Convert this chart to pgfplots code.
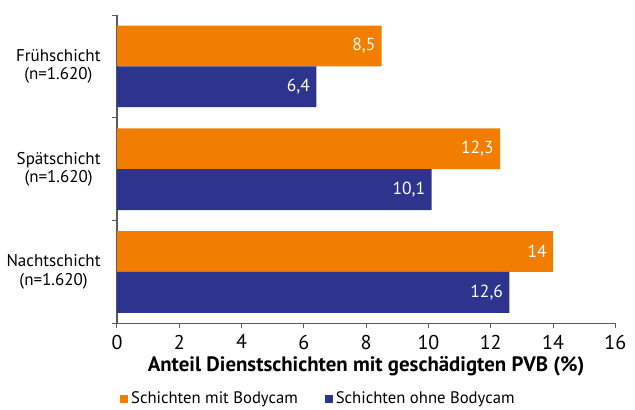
\documentclass[border=0pt]{standalone}
\usepackage{fontspec}
\setmainfont{PT Sans}
\usepackage{pgfplots}
\pgfplotsset{compat=1.18}

\definecolor{mitcam}{RGB}{242,125,0}
\definecolor{ohnecam}{RGB}{44,52,142}
\definecolor{axisgray}{RGB}{90,90,90}

\begin{document}
\begin{tikzpicture}
\fontsize{11}{12}\selectfont
\begin{axis}[
    at={(0,0)}, anchor=south west,
    scale only axis,
    width=299pt, height=185pt,
    xbar,
    bar width=24.5pt,
    xmin=0, xmax=16,
    ymin=-0.5, ymax=2.5,
    y dir=reverse,
    xtick={0,2,...,16},
    ytick={0,1,2},
    minor ytick={-0.5,0.5,1.5,2.5},
    yticklabels={{Frühschicht\\(n=1.620)},{Spätschicht\\(n=1.620)},{Nachtschicht\\(n=1.620)}},
    yticklabel style={align=center, font=\fontsize{10.2}{11}\selectfont, xshift=-3pt},
    xticklabel style={font=\fontsize{12}{12}\selectfont},
    /pgf/number format/assume math mode=true,
    major tick length=3pt,
    minor tick length=3pt,
    tick align=outside,
    tick style={axisgray, line width=0.6pt},
    major y tick style={draw=none},
    axis x line*=bottom,
    axis y line*=left,
    axis line style={axisgray, line width=0.8pt, -},
    xlabel={\textbf{Anteil Dienstschichten mit geschädigten PVB (\%)}},
    xlabel style={font=\fontsize{12.5}{13}\selectfont, yshift=3pt},
    nodes near coords,
    nodes near coords align={anchor=east},
    every node near coord/.append style={white, font=\fontsize{10.5}{11}\selectfont,
        /pgf/number format/use comma, /pgf/number format/assume math mode=true},
    legend columns=2,
    legend style={at={(-0.005,-0.245)}, anchor=west, draw=none, fill=none,
        font=\fontsize{10}{11}\selectfont,
        /tikz/every even column/.append style={column sep=14pt}},
    legend image code/.code={\fill[#1] (0pt,-2.4pt) rectangle (4.8pt,2.4pt);},
]
\addplot[draw=none, fill=mitcam, bar shift=12.25pt] coordinates {(8.5,0) (12.3,1) (14,2)};
\addplot[draw=none, fill=ohnecam, bar shift=-12.25pt] coordinates {(6.4,0) (10.1,1) (12.6,2)};
\legend{Schichten mit Bodycam, Schichten ohne Bodycam}
\end{axis}
\pgfresetboundingbox
\useasboundingbox (-70.2pt,-51.6pt) rectangle (310.8pt,194pt);
\end{tikzpicture}
\end{document}
